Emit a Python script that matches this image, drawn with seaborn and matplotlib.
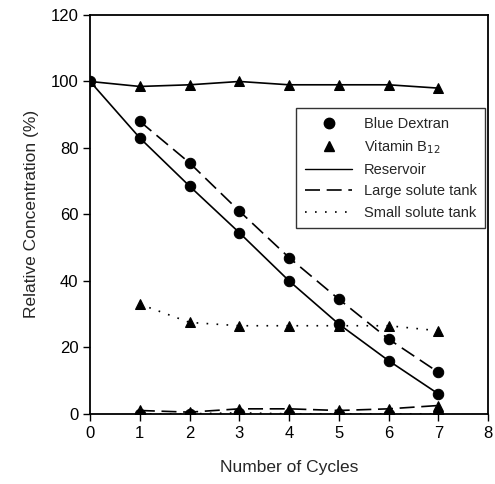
import matplotlib
matplotlib.use("Agg")
import matplotlib.pyplot as plt
from matplotlib.lines import Line2D
import seaborn as sns
import pandas as pd

cycles_res = [0, 1, 2, 3, 4, 5, 6, 7]
cycles_tank = [1, 2, 3, 4, 5, 6, 7]

b12_reservoir = [100, 98.5, 99, 100, 99, 99, 99, 98]
bd_reservoir = [100, 83, 68.5, 54.5, 40, 27, 16, 6]
bd_large = [88, 75.5, 61, 47, 34.5, 22.5, 12.5]
b12_small = [33, 27.5, 26.5, 26.5, 26.5, 26.5, 25]
b12_large = [1, 0.5, 1.5, 1.5, 1, 1.5, 2.5]
bd_small = [0, 0, 0.3, 0, 0, 0, 0]

x_ticks = [0, 1, 2, 3, 4, 5, 6, 7, 8]
y_ticks = [0, 20, 40, 60, 80, 100, 120]

sns.set_theme(style="ticks")
plt.rcParams['font.family'] = ['Liberation Sans', 'DejaVu Sans']

fig = plt.figure(figsize=(4.95, 4.84), dpi=100)
ax = fig.add_axes([0.182, 0.145, 0.804, 0.824])

series = [
    (cycles_res, b12_reservoir, '^', '-'),
    (cycles_res, bd_reservoir, 'o', '-'),
    (cycles_tank, bd_large, 'o', (0, (9, 4))),
    (cycles_tank, b12_small, '^', (0, (1, 5))),
    (cycles_tank, b12_large, '^', (0, (9, 4))),
    (cycles_tank, bd_small, 'o', (0, (1, 5))),
]
for xs, ys, m, ls in series:
    df = pd.DataFrame({'x': xs, 'y': ys})
    sns.lineplot(data=df, x='x', y='y', ax=ax, color='black', marker=m,
                 markersize=7.5, markeredgecolor='black', linewidth=1.2,
                 linestyle=ls, legend=False)

ax.set_xlim(0, 8)
ax.set_ylim(0, 120)
ax.set_xticks(x_ticks)
ax.set_yticks(y_ticks)
ax.tick_params(axis='both', labelsize=12, direction='out', length=5, width=1, colors='black')
for s in ax.spines.values():
    s.set_color('black')
    s.set_linewidth(1.3)
ax.set_xlabel('Number of Cycles', fontsize=12.5, labelpad=14)
ax.set_ylabel('Relative Concentration (%)', fontsize=12.5, labelpad=8)

handles = [
    Line2D([], [], color='black', marker='o', linestyle='none', markersize=7.5),
    Line2D([], [], color='black', marker='^', linestyle='none', markersize=7.5),
    Line2D([], [], color='black', linestyle='-', linewidth=1),
    Line2D([], [], color='black', linestyle=(0, (9, 4)), linewidth=1.2),
    Line2D([], [], color='black', linestyle=(0, (1, 5)), linewidth=1.2),
]
labels = ['Blue Dextran', 'Vitamin B$_{12}$', 'Reservoir', 'Large solute tank', 'Small solute tank']
leg = ax.legend(handles, labels, loc='upper right', bbox_to_anchor=(1.011, 0.785),
                fontsize=10.5, frameon=True, fancybox=False, edgecolor='black',
                handlelength=3.2, labelspacing=0.5, borderpad=0.6)
leg.get_frame().set_linewidth(1.0)

fig.savefig('out.png', dpi=100)
